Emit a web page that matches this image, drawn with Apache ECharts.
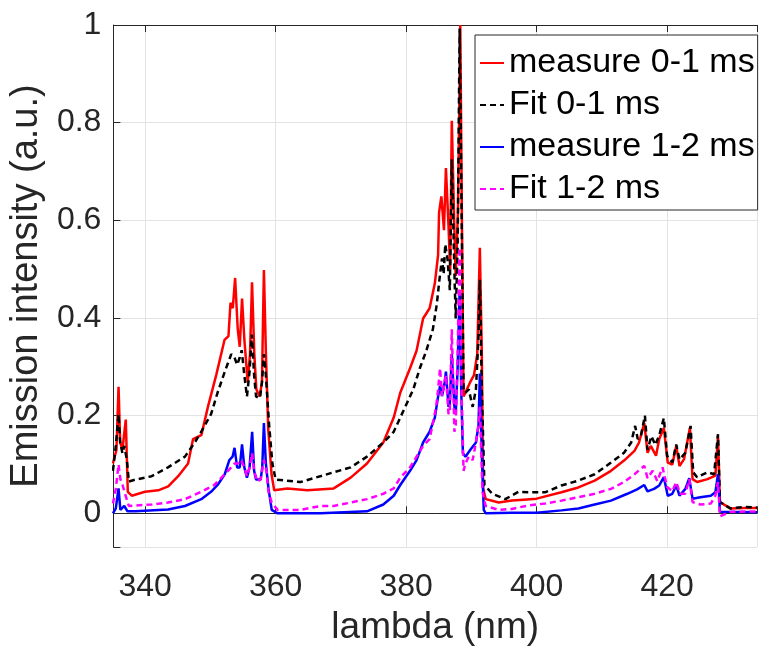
<!DOCTYPE html>
<html>
<head>
<meta charset="utf-8">
<script src="https://cdn.jsdelivr.net/npm/echarts@6/dist/echarts.min.js"></script>
<style>
html,body{margin:0;padding:0;background:#fff;}
#chart{width:760px;height:651px;}
</style>
</head>
<body>
<div id="chart"></div>
<script>
// ---- data ----
const seriesNames = ['measure 0-1 ms', 'Fit 0-1 ms', 'measure 1-2 ms', 'Fit 1-2 ms'];
const xTicks = [340, 360, 380, 400, 420];
const yTicks = [0, 0.2, 0.4, 0.6, 0.8, 1];

const measure01X = [
  335.06,335.6,335.92,336.17,336.52,337.03,337.34,337.95,339.97,342.0,
  343.54,345.06,346.58,347.34,348.61,349.62,350.89,352.16,352.77,353.08,
  353.43,353.79,354.19,354.5,354.85,355.21,355.72,356.07,356.38,356.73,
  357.04,357.54,357.9,358.2,358.51,358.86,359.37,359.78,361.8,364.85,
  368.9,371.5,374.0,376.5,378.1,379.1,380.6,381.6,382.6,383.6,
  384.4,384.9,385.05,385.4,385.8,386.1,386.5,386.75,387.0,387.4,
  387.6,387.95,388.3,388.55,388.8,389.1,389.8,390.4,390.9,391.3,
  391.6,391.8,392.2,394.2,396.2,398.0,400.0,403.8,406.4,408.9,
  411.4,413.4,415.0,415.7,416.5,417.0,417.5,418.3,418.8,419.5,
  420.1,420.8,421.4,421.9,422.6,423.5,423.9,424.6,426.2,427.4,
  427.8,428.1,429.7,431.8,433.8];
const measure01Y = [
  0.102,0.13,0.259,0.145,0.131,0.192,0.044,0.036,0.044,0.047,
  0.055,0.076,0.102,0.152,0.160,0.218,0.283,0.355,0.363,0.431,
  0.420,0.482,0.377,0.341,0.440,0.355,0.268,0.326,0.473,0.326,
  0.254,0.239,0.268,0.498,0.326,0.174,0.080,0.047,0.051,0.047,
  0.051,0.073,0.102,0.145,0.196,0.247,0.297,0.333,0.399,0.420,
  0.471,0.529,0.616,0.649,0.580,0.707,0.587,0.500,0.804,0.580,
  0.486,0.620,1.000,0.600,0.239,0.240,0.268,0.283,0.326,0.544,
  0.326,0.051,0.029,0.022,0.026,0.028,0.030,0.043,0.053,0.067,
  0.087,0.108,0.128,0.145,0.185,0.124,0.138,0.118,0.152,0.175,
  0.104,0.100,0.138,0.097,0.111,0.175,0.070,0.064,0.070,0.077,
  0.158,0.023,0.010,0.011,0.011];

const fit01X = [
  335.06,335.5,335.92,336.17,336.52,336.8,337.2,337.5,338.5,341.0,
  343.5,346.1,347.6,348.6,350.1,351.1,352.2,353.2,353.7,354.1,
  354.5,354.8,355.2,355.6,356.0,356.35,356.7,357.0,357.6,357.9,
  358.2,358.5,359.0,359.5,360.0,363.8,368.9,371.5,374.0,376.5,
  378.1,379.1,380.1,381.1,382.1,383.1,384.1,384.7,385.1,385.5,
  385.75,386.0,386.35,386.7,387.0,387.4,387.6,387.9,388.2,388.5,
  388.8,389.1,389.6,390.2,390.7,391.1,391.3,391.6,392.0,393.2,
  395.2,397.2,398.7,401.3,403.8,406.4,408.9,411.4,413.4,414.5,
  415.1,415.5,416.0,416.6,417.0,417.6,418.2,418.8,419.5,420.0,
  420.8,421.4,421.9,422.8,423.6,424.0,424.6,426.2,427.2,427.8,
  428.1,429.7,431.8,433.8];
const fit01Y = [
  0.087,0.138,0.203,0.145,0.123,0.138,0.109,0.065,0.069,0.076,
  0.094,0.116,0.145,0.167,0.203,0.247,0.290,0.326,0.319,0.304,
  0.319,0.334,0.283,0.239,0.290,0.366,0.283,0.239,0.236,0.268,
  0.326,0.283,0.181,0.102,0.069,0.064,0.084,0.094,0.116,0.145,
  0.167,0.196,0.225,0.254,0.297,0.333,0.377,0.428,0.478,0.522,
  0.490,0.551,0.520,0.457,0.725,0.493,0.399,0.550,0.993,0.620,
  0.254,0.247,0.254,0.218,0.254,0.363,0.478,0.254,0.058,0.040,
  0.029,0.044,0.043,0.043,0.057,0.067,0.080,0.104,0.124,0.145,
  0.179,0.152,0.160,0.200,0.130,0.158,0.140,0.160,0.195,0.118,
  0.104,0.141,0.110,0.124,0.179,0.084,0.074,0.084,0.080,0.162,
  0.023,0.010,0.013,0.012];

const measure12X = [
  335.06,335.5,335.92,336.2,336.8,337.3,338.5,343.5,346.1,348.6,
  350.1,351.1,352.2,352.9,353.4,353.7,354.1,354.5,354.85,355.2,
  355.6,356.0,356.4,356.7,357.0,357.7,357.95,358.2,358.5,358.9,
  359.4,360.3,366.9,374.0,376.5,378.1,379.1,380.6,381.6,382.6,
  383.6,384.4,384.9,385.2,385.5,385.9,386.1,386.5,386.7,387.0,
  387.4,387.6,387.9,388.2,388.45,388.7,389.1,389.9,390.7,391.1,
  391.3,391.6,391.9,392.2,396.2,400.0,403.8,406.4,408.9,411.4,
  413.9,415.4,416.5,417.0,418.0,418.8,419.5,420.1,420.8,421.4,
  421.9,422.8,423.4,423.9,425.1,426.7,427.4,427.8,428.1,433.8];
const measure12Y = [
  0.000,0.010,0.051,0.007,0.015,0.004,0.004,0.008,0.015,0.029,
  0.044,0.058,0.080,0.109,0.116,0.134,0.094,0.094,0.141,0.094,
  0.073,0.094,0.167,0.087,0.069,0.069,0.094,0.185,0.102,0.051,
  0.007,0.000,0.000,0.004,0.018,0.036,0.058,0.087,0.109,0.145,
  0.167,0.196,0.239,0.261,0.240,0.268,0.290,0.218,0.225,0.326,
  0.218,0.203,0.300,0.456,0.250,0.123,0.116,0.131,0.145,0.181,
  0.286,0.120,0.007,0.000,0.001,0.001,0.006,0.010,0.018,0.026,
  0.040,0.049,0.058,0.045,0.050,0.057,0.074,0.036,0.040,0.057,
  0.036,0.050,0.072,0.030,0.033,0.036,0.043,0.080,0.003,0.002];

const fit12X = [
  335.06,335.5,335.92,336.2,336.5,336.8,337.5,341.0,343.5,346.1,
  348.6,350.6,352.2,353.2,353.7,354.2,354.7,355.2,355.6,356.0,
  356.4,356.7,357.2,357.7,358.2,358.6,358.9,359.4,360.3,363.8,
  366.9,368.9,371.5,374.0,376.5,378.1,379.1,380.6,381.6,382.6,
  383.6,384.6,384.9,385.2,385.5,385.9,386.1,386.5,386.7,387.0,
  387.4,387.6,387.9,388.2,388.5,388.8,389.1,389.6,390.2,390.7,
  391.1,391.3,391.7,392.2,394.2,396.2,398.7,401.3,403.8,406.4,
  408.9,411.4,413.4,415.0,416.5,417.0,417.8,418.5,419.3,420.0,
  420.8,421.4,422.0,422.8,423.4,423.9,425.1,426.7,427.4,427.8,
  428.1,429.7,433.8];
const fit12Y = [
  0.020,0.050,0.100,0.070,0.060,0.045,0.015,0.018,0.022,0.029,
  0.044,0.058,0.080,0.094,0.102,0.102,0.109,0.094,0.076,0.094,
  0.123,0.087,0.065,0.070,0.109,0.087,0.044,0.022,0.007,0.007,
  0.015,0.015,0.022,0.029,0.040,0.051,0.073,0.094,0.116,0.138,
  0.152,0.218,0.254,0.297,0.240,0.268,0.283,0.203,0.210,0.377,
  0.167,0.180,0.330,0.544,0.250,0.087,0.102,0.116,0.109,0.145,
  0.181,0.218,0.044,0.015,0.007,0.009,0.016,0.020,0.026,0.033,
  0.040,0.050,0.064,0.080,0.097,0.072,0.087,0.066,0.094,0.054,
  0.045,0.064,0.040,0.040,0.070,0.023,0.018,0.020,0.036,0.064,
  -0.006,0.003,0.004];

// ---- chart ----
const FONT = '"Liberation Sans", Arial, Helvetica, sans-serif';
const AX = '#262626';
const pairs = (xs, ys) => xs.map((x, i) => [x, ys[i]]);
const near = (v, arr) => arr.some(t => Math.abs(t - v) < 1e-6);

const chart = echarts.init(document.getElementById('chart'), null, {renderer: 'canvas'});
const lineSeries = (name, xs, ys, color, dashed) => ({
  name: name,
  type: 'line',
  data: pairs(xs, ys),
  symbol: 'none',
  showSymbol: false,
  smooth: false,
  lineStyle: {color: color, width: 2.5, type: dashed ? [6, 4] : 'solid'},
  itemStyle: {color: color},
  emphasis: {disabled: true},
  clip: true
});

chart.setOption({
  animation: false,
  backgroundColor: '#fff',
  grid: {left: 111.5, right: 0, top: 25, bottom: 99, containLabel: false},
  xAxis: [{
    type: 'value',
    min: 335.13, max: 433.78,
    splitNumber: 5,
    position: 'bottom',
    name: 'lambda (nm)',
    nameLocation: 'middle',
    nameGap: 62,
    nameTextStyle: {fontFamily: FONT, fontSize: 37, color: AX},
    axisLine: {show: true, lineStyle: {color: AX, width: 1}},
    axisTick: {show: true, inside: true, length: 7, lineStyle: {color: AX}},
    axisLabel: {
      fontFamily: FONT, fontSize: 32, color: AX, margin: 24,
      showMinLabel: true, showMaxLabel: true,
      formatter: v => near(v, xTicks) ? String(Math.round(v)) : ''
    },
    splitLine: {show: true, lineStyle: {color: '#e3e3e3', width: 1}}
  }, {
    type: 'value',
    min: 335.13, max: 433.78,
    splitNumber: 5,
    position: 'top',
    axisLine: {show: true, lineStyle: {color: AX, width: 1}},
    axisTick: {show: true, inside: true, length: 7, lineStyle: {color: AX}},
    axisLabel: {show: false},
    splitLine: {show: false}
  }],
  yAxis: {
    type: 'value',
    min: -0.069, max: 1,
    splitNumber: 5,
    name: 'Emission intensity (a.u.)',
    nameLocation: 'middle',
    nameGap: 63,
    nameTextStyle: {fontFamily: FONT, fontSize: 38, color: AX},
    axisLine: {show: true, lineStyle: {color: AX, width: 1}},
    axisTick: {show: true, inside: true, length: 7, lineStyle: {color: AX}},
    axisLabel: {
      fontFamily: FONT, fontSize: 32, color: AX, margin: 12,
      formatter: v => near(v, yTicks) ? String(Math.round(v * 10) / 10) : ''
    },
    splitLine: {show: true, lineStyle: {color: '#e3e3e3', width: 1}}
  },
  legend: {
    orient: 'vertical',
    left: 475, top: 35,
    data: seriesNames,
    itemWidth: 24, itemHeight: 14, itemGap: 8,
    padding: [11, 3, 4, 4],
    borderColor: AX, borderWidth: 1, backgroundColor: '#fff',
    itemStyle: {opacity: 0},
    textStyle: {fontFamily: FONT, fontSize: 34, color: '#000', lineHeight: 34},
    selectedMode: false
  },
  series: [
    lineSeries(seriesNames[0], measure01X, measure01Y, '#ff0000', false),
    lineSeries(seriesNames[1], fit01X, fit01Y, '#000000', true),
    lineSeries(seriesNames[2], measure12X, measure12Y, '#0000ff', false),
    lineSeries(seriesNames[3], fit12X, fit12Y, '#ff00ff', true)
  ]
});
</script>
</body>
</html>
